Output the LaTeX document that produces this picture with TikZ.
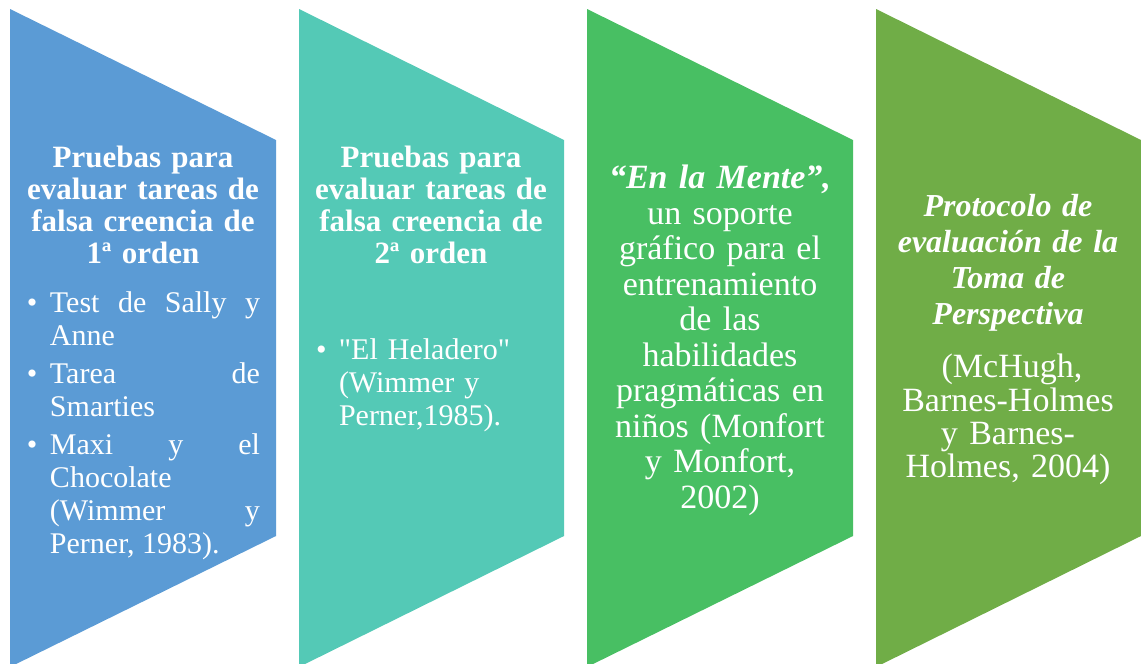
\documentclass[tikz,border=0pt]{standalone}
\usepackage{fontspec}
\setmainfont{Liberation Serif}
\definecolor{chevblue}{RGB}{91,155,213}
\definecolor{chevteal}{RGB}{84,201,182}
\definecolor{chevgreen}{RGB}{72,191,99}
\definecolor{chevolive}{RGB}{112,173,71}
\newcommand{\bulletline}[1]{\par\noindent\hangindent=20pt\hangafter=1\makebox[20pt][l]{\hspace{-3pt}\textbullet}#1}
\begin{document}
\begin{tikzpicture}[x=1pt, y=-1pt,
    headtxt/.style={anchor=north, inner sep=0pt, text=white, text width=236pt, align=center,
        font=\fontsize{31}{32}\selectfont\bfseries},
    listtxt/.style={anchor=north, inner sep=0pt, text=white, text width=230pt,
        font=\fontsize{30}{33}\selectfont}]
    \useasboundingbox (0,0) rectangle (1141,664);
    % Chevrons
    \fill[chevblue] (10,9) -- (276,140) -- (276,536) -- (10,667) -- cycle;
    \fill[chevteal] (299,9) -- (564,140) -- (564,536) -- (299,667) -- cycle;
    \fill[chevgreen] (587,9) -- (853,140) -- (853,536) -- (587,667) -- cycle;
    \fill[chevolive] (876,9) -- (1141,140) -- (1141,536) -- (876,667) -- cycle;
    % First order tests
    \node[headtxt] (primerT) at (143,146) {Pruebas para\\evaluar tareas de\\falsa creencia de\\1ª orden};
    \node[listtxt, align=justify] (primerL) at (145,274) {\setlength{\parskip}{5pt}%
        \bulletline{Test de Sally y\linebreak Anne}
        \bulletline{Tarea de\linebreak Smarties}
        \bulletline{Maxi y el\linebreak Chocolate\linebreak (Wimmer y\linebreak Perner, 1983).}\par};
    % Second order tests
    \node[headtxt] (segundoT) at (431,146) {Pruebas para\\evaluar tareas de\\falsa creencia de\\2ª orden};
    \node[listtxt, align=left] (segundoL) at (434,326) {%
        \bulletline{\textquotedbl El Heladero\textquotedbl\break (Wimmer y\break Perner,1985).}\par};
    % En la Mente
    \node[anchor=north, inner sep=0pt, text=white, text width=250pt, align=center,
        font=\fontsize{34}{35.5}\selectfont] (mente) at (720,165)
        {\textbf{\textit{“En la Mente”,}}\\un soporte\\gráfico para el\\entrenamiento\\de las\\habilidades\\pragmáticas en\\niños (Monfort\\y Monfort,\\2002)};
    % Perspective taking protocol
    \node[anchor=north, inner sep=0pt, text=white, text width=250pt, align=center,
        font=\fontsize{32}{36}\selectfont\bfseries\itshape] (protoT) at (1008,194)
        {Protocolo de\\evaluación de la\\Toma de\\Perspectiva};
    \node[anchor=north, inner sep=0pt, text=white, text width=250pt, align=center,
        font=\fontsize{34}{33.3}\selectfont] (protoR) at (1008,354)
        {\hspace*{8pt}(McHugh,\\Barnes-Holmes\\y Barnes-\\Holmes, 2004)};
\end{tikzpicture}
\end{document}
